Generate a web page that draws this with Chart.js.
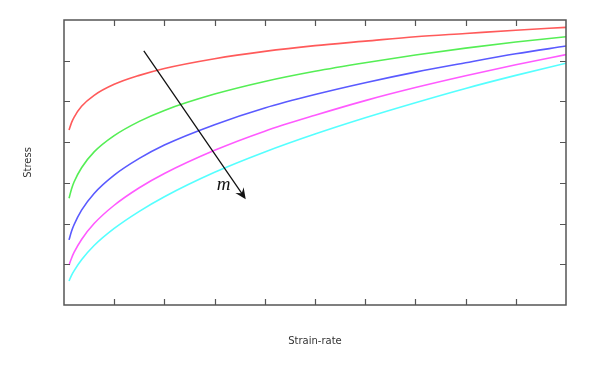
<!DOCTYPE html>
<html>
<head>
<meta charset="utf-8">
<script src="https://cdn.jsdelivr.net/npm/chart.js@4"></script>
<style>
html,body{margin:0;padding:0;background:#fff;}
#wrap{width:600px;height:365px;}
</style>
</head>
<body>
<div id="wrap"><canvas id="c" width="600" height="365"></canvas></div>
<script>
// Data
const strainRate    = [0.1, 0.15, 0.2, 0.35, 0.6, 1, 1.5, 2, 3, 4, 5, 6, 7, 8, 9, 10];
const stressRed     = [4.30, 4.48, 4.61, 4.88, 5.15, 5.42, 5.64, 5.81, 6.05, 6.23, 6.37, 6.48, 6.59, 6.67, 6.75, 6.82];
const stressGreen   = [2.62, 2.85, 3.02, 3.37, 3.76, 4.16, 4.51, 4.78, 5.18, 5.49, 5.74, 5.95, 6.14, 6.31, 6.46, 6.59];
const stressBlue    = [1.60, 1.81, 1.97, 2.33, 2.74, 3.19, 3.60, 3.93, 4.43, 4.84, 5.17, 5.46, 5.72, 5.95, 6.17, 6.36];
const stressMagenta = [0.98, 1.15, 1.29, 1.61, 2.00, 2.45, 2.88, 3.23, 3.80, 4.27, 4.66, 5.02, 5.34, 5.63, 5.90, 6.15];
const stressCyan    = [0.59, 0.73, 0.84, 1.11, 1.46, 1.88, 2.30, 2.66, 3.26, 3.76, 4.20, 4.60, 4.97, 5.32, 5.64, 5.94];
const xTicks = [1, 2, 3, 4, 5, 6, 7, 8, 9];
const yTicks = [1, 2, 3, 4, 5, 6];
const arrowFrom = [1.59, 6.24];
const arrowTo = [3.62, 2.60];
const arrowLabel = 'm';
const xTitle = 'Strain-rate';
const yTitle = 'Stress';

function pts(ys){ return strainRate.map((x,i)=>({x:x,y:ys[i]})); }
function ds(ys,color){
  return {data:pts(ys), borderColor:color, borderWidth:1.6, pointRadius:0, fill:false, cubicInterpolationMode:'monotone'};
}

const framePlugin = {
  id:'frame',
  afterDatasetsDraw(chart){
    const ctx = chart.ctx, a = chart.chartArea;
    const xs = chart.scales.x, ys = chart.scales.y;
    ctx.save();
    // arrow
    const x1 = xs.getPixelForValue(arrowFrom[0]), y1 = ys.getPixelForValue(arrowFrom[1]);
    const x2 = xs.getPixelForValue(arrowTo[0]), y2 = ys.getPixelForValue(arrowTo[1]);
    const ang = Math.atan2(y2-y1, x2-x1);
    ctx.strokeStyle = '#111'; ctx.fillStyle = '#111'; ctx.lineWidth = 1.3;
    ctx.beginPath(); ctx.moveTo(x1,y1);
    ctx.lineTo(x2-6*Math.cos(ang), y2-6*Math.sin(ang)); ctx.stroke();
    const L = 11, W = 5;
    ctx.beginPath();
    ctx.moveTo(x2,y2);
    ctx.lineTo(x2-L*Math.cos(ang)+W*Math.sin(ang), y2-L*Math.sin(ang)-W*Math.cos(ang));
    ctx.lineTo(x2-7*Math.cos(ang), y2-7*Math.sin(ang));
    ctx.lineTo(x2-L*Math.cos(ang)-W*Math.sin(ang), y2-L*Math.sin(ang)+W*Math.cos(ang));
    ctx.closePath(); ctx.fill();
    // label
    ctx.font = 'italic 19px "Liberation Serif", serif';
    ctx.textAlign = 'center'; ctx.textBaseline = 'middle';
    ctx.fillText(arrowLabel, xs.getPixelForValue(3.18), ys.getPixelForValue(2.95));
    // frame
    ctx.strokeStyle = '#555'; ctx.lineWidth = 1.5;
    ctx.strokeRect(a.left, a.top, a.right-a.left, a.bottom-a.top);
    ctx.lineWidth = 1.2;
    ctx.beginPath();
    xTicks.forEach(v=>{
      const p = Math.round(xs.getPixelForValue(v))+0.5;
      ctx.moveTo(p,a.bottom); ctx.lineTo(p,a.bottom-6);
      ctx.moveTo(p,a.top); ctx.lineTo(p,a.top+6);
    });
    yTicks.forEach(v=>{
      const p = Math.round(ys.getPixelForValue(v))+0.5;
      ctx.moveTo(a.left,p); ctx.lineTo(a.left+6,p);
      ctx.moveTo(a.right,p); ctx.lineTo(a.right-6,p);
    });
    ctx.stroke();
    // axis titles
    ctx.fillStyle = '#333';
    ctx.font = '10px "DejaVu Sans", sans-serif';
    ctx.textAlign = 'center'; ctx.textBaseline = 'middle';
    ctx.fillText(xTitle, (a.left+a.right)/2, 341);
    ctx.translate(28, (a.top+a.bottom)/2);
    ctx.rotate(-Math.PI/2);
    ctx.fillText(yTitle, 0, 0);
    ctx.restore();
  }
};

new Chart(document.getElementById('c'), {
  type:'line',
  data:{datasets:[
    ds(stressRed,'#ff5a5a'),
    ds(stressGreen,'#55ee55'),
    ds(stressBlue,'#5a5aff'),
    ds(stressMagenta,'#ff5aff'),
    ds(stressCyan,'#55ffff')
  ]},
  options:{
    responsive:false, animation:false,
    layout:{padding:{left:64, right:34, top:20, bottom:60}},
    plugins:{legend:{display:false}, tooltip:{enabled:false}},
    scales:{
      x:{type:'linear', min:0, max:10, display:false},
      y:{type:'linear', min:0, max:7, display:false}
    }
  },
  plugins:[framePlugin]
});
</script>
</body>
</html>
